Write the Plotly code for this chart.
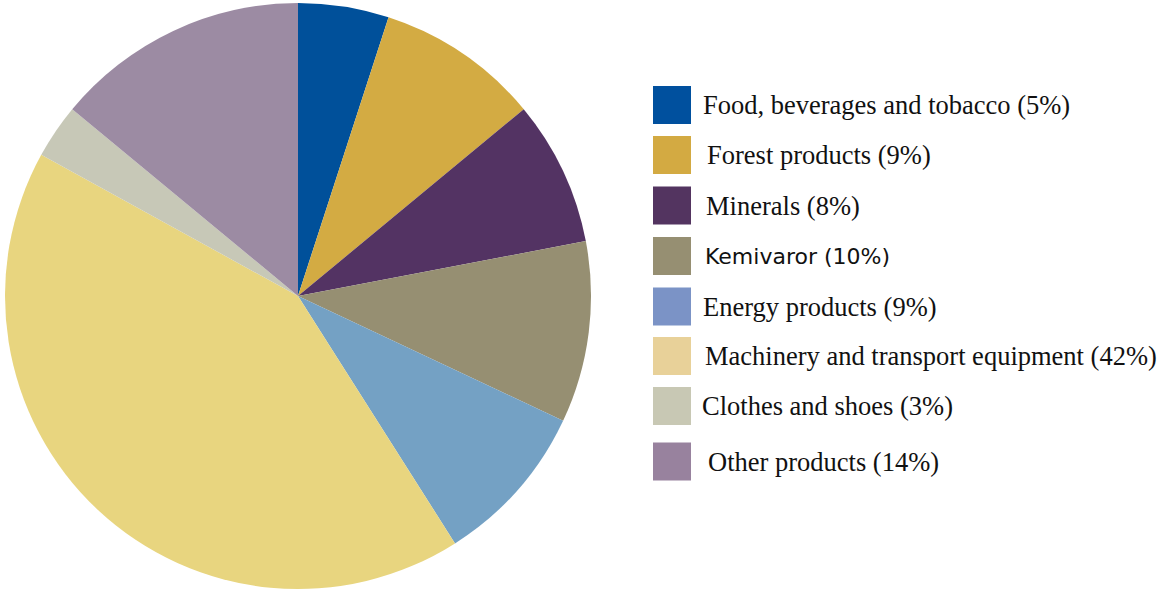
import plotly.graph_objects as go

# ---- data ----
categories = [
    "Food, beverages and tobacco",
    "Forest products",
    "Minerals",
    "Kemivaror",
    "Energy products",
    "Machinery and transport equipment",
    "Clothes and shoes",
    "Other products",
]
shares = [5, 9, 8, 10, 9, 42, 3, 14]

# ---- style ----
slice_colors = ["#00509a", "#d3ab43", "#533363", "#968f72",
                "#74a1c4", "#e8d57f", "#c7c8b7", "#9c8ba3"]
legend_colors = ["#00509e", "#d3aa42", "#533460", "#968f72",
                 "#7b93c6", "#e8d199", "#c8c8b4", "#98829e"]
legend_fonts = ["Liberation Serif"] * 3 + ["DejaVu Sans"] + ["Liberation Serif"] * 4
legend_sizes = [26.5, 26.5, 26.5, 22, 26.5, 26.5, 26.5, 26.5]
legend_centers = [105, 155, 205.5, 256, 306.5, 356, 406, 461.5]
legend_text_x = [701, 705, 704, 703, 701, 703, 700, 706]

W, H = 1165, 592
cx, cy, R = 298, 296, 293

fig = go.Figure()
fig.add_trace(go.Pie(
    labels=categories,
    values=shares,
    sort=False,
    direction="clockwise",
    rotation=0,
    marker=dict(colors=slice_colors, line=dict(width=0)),
    textinfo="none",
    hoverinfo="label+percent",
    showlegend=False,
    domain=dict(x=[(cx - R) / W, (cx + R) / W],
                y=[(H - cy - R) / H, (H - cy + R) / H]),
))

shapes = []
annotations = []
sq = 38
for i, (cat, v) in enumerate(zip(categories, shares)):
    yc = legend_centers[i]
    shapes.append(dict(type="rect", xref="x", yref="y",
                       x0=653, x1=653 + sq, y0=yc - sq / 2, y1=yc + sq / 2,
                       fillcolor=legend_colors[i], line=dict(width=0)))
    annotations.append(dict(x=legend_text_x[i], y=yc, xref="x", yref="y",
                            text=f"{cat} ({v}%)", showarrow=False,
                            xanchor="left", yanchor="middle",
                            font=dict(family=legend_fonts[i], size=legend_sizes[i],
                                      color="#111111")))

fig.update_layout(
    width=W, height=H,
    margin=dict(l=0, r=0, t=0, b=0),
    paper_bgcolor="white", plot_bgcolor="rgba(0,0,0,0)",
    xaxis=dict(range=[0, W], visible=False, domain=[0, 1], fixedrange=True),
    yaxis=dict(range=[H, 0], visible=False, domain=[0, 1], fixedrange=True),
    shapes=shapes,
    annotations=annotations,
    showlegend=False,
)

fig.write_html("out.html")
